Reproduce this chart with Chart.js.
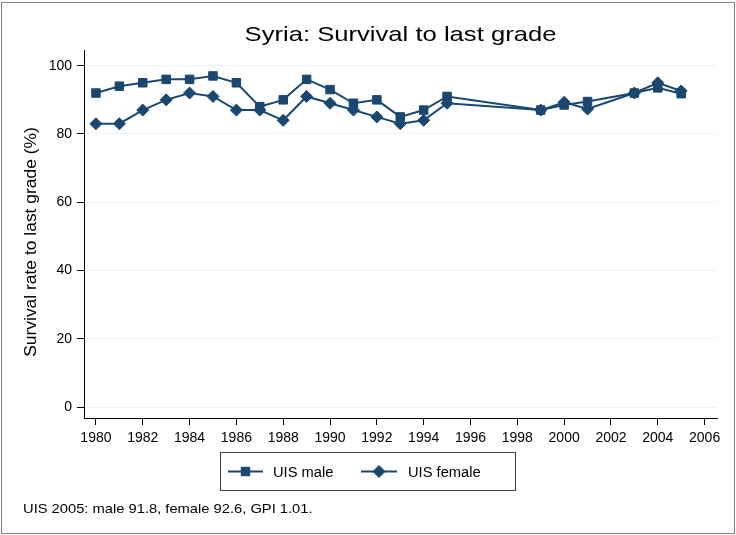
<!DOCTYPE html>
<html>
<head>
<meta charset="utf-8">
<script src="https://cdn.jsdelivr.net/npm/chart.js@4.4.1/dist/chart.umd.min.js"></script>
<style>
  html, body { margin: 0; padding: 0; background: #fff; }
  #wrap { position: relative; width: 736px; height: 535px; }
</style>
</head>
<body>
<div id="wrap"><canvas id="chart" width="736" height="535"></canvas></div>
<script>
// data
const years = [1980, 1981, 1982, 1983, 1984, 1985, 1986, 1987, 1988, 1989, 1990, 1991, 1992, 1993, 1994, 1995, 1999, 2000, 2001, 2003, 2004, 2005];
const maleRate = [92, 94, 95, 96, 96, 97, 95, 88, 90, 96, 93, 89, 90, 85, 87, 91, 87, 88.5, 89.5, 92, 93.5, 91.8];
const femaleRate = [83, 83, 87, 90, 92, 91, 87, 87, 84, 91, 89, 87, 85, 83, 84, 89, 87, 89.3, 87.3, 92, 95, 92.6];
const xTicks = [1980, 1982, 1984, 1986, 1988, 1990, 1992, 1994, 1996, 1998, 2000, 2002, 2004, 2006];
const yTicks = [0, 20, 40, 60, 80, 100];
const legendLabels = ['UIS male', 'UIS female'];
const titleText = 'Syria: Survival to last grade';
const yTitleText = 'Survival rate to last grade (%)';
const noteText = 'UIS 2005: male 91.8, female 92.6, GPI 1.01.';

const NAVY = '#1a476f';
const FONT = '"Liberation Sans", Arial, Helvetica, sans-serif';

// draw text a bit wider, like the stretched stata export
function wideText(ctx, text, x, y, sx, rot) {
  ctx.save();
  ctx.translate(x, y);
  if (rot) ctx.rotate(rot);
  ctx.scale(sx, 1);
  ctx.fillText(text, 0, 0);
  ctx.restore();
}

const decor = {
  id: 'decor',
  afterDraw(chart) {
    const ctx = chart.ctx;
    const area = chart.chartArea;
    ctx.save();

    // outer frame
    ctx.strokeStyle = '#808080';
    ctx.lineWidth = 1;
    ctx.strokeRect(1.5, 2.5, 733, 531);

    ctx.fillStyle = '#000';
    ctx.textBaseline = 'alphabetic';

    // title, centred on plot region
    ctx.font = '21px ' + FONT;
    ctx.textAlign = 'center';
    wideText(ctx, titleText, (area.left + area.right) / 2, 41, 1.22);

    // y axis title
    ctx.font = '16px ' + FONT;
    wideText(ctx, yTitleText, 36, 242, 1.09, -Math.PI / 2);

    // legend box
    ctx.strokeStyle = '#404040';
    ctx.strokeRect(220.5, 452.5, 295, 38);
    const items = [
      { label: legendLabels[0], style: 'rect', x0: 228, x1: 263, tx: 273 },
      { label: legendLabels[1], style: 'rectRot', x0: 361, x1: 397, tx: 408 }
    ];
    ctx.font = '14px ' + FONT;
    ctx.textAlign = 'left';
    items.forEach(it => {
      ctx.strokeStyle = NAVY;
      ctx.lineWidth = 2;
      ctx.beginPath();
      ctx.moveTo(it.x0, 471.5);
      ctx.lineTo(it.x1, 471.5);
      ctx.stroke();
      ctx.fillStyle = NAVY;
      ctx.lineWidth = 1;
      Chart.helpers.drawPoint(ctx, { pointStyle: it.style, radius: 6, rotation: 0, borderWidth: 1 }, (it.x0 + it.x1) / 2, 471.5);
      ctx.fillStyle = '#000';
      wideText(ctx, it.label, it.tx, 477, 1.05);
    });

    // note
    ctx.font = '13.5px ' + FONT;
    wideText(ctx, noteText, 23, 513, 1.09);

    ctx.restore();
  }
};

const ctx = document.getElementById('chart').getContext('2d');
new Chart(ctx, {
  type: 'line',
  data: {
    datasets: [
      {
        label: legendLabels[0],
        data: years.map((yr, i) => ({ x: yr, y: maleRate[i] })),
        borderColor: NAVY,
        backgroundColor: NAVY,
        borderWidth: 2,
        tension: 0,
        pointStyle: 'rect',
        pointRadius: 6,
        pointBorderWidth: 1,
        pointBackgroundColor: NAVY,
        pointBorderColor: NAVY,
        order: 2
      },
      {
        label: legendLabels[1],
        data: years.map((yr, i) => ({ x: yr, y: femaleRate[i] })),
        borderColor: NAVY,
        backgroundColor: NAVY,
        borderWidth: 2,
        tension: 0,
        pointStyle: 'rectRot',
        pointRadius: 6,
        pointBorderWidth: 1,
        pointBackgroundColor: NAVY,
        pointBorderColor: NAVY,
        order: 1
      }
    ]
  },
  options: {
    responsive: false,
    animation: false,
    devicePixelRatio: 1,
    layout: { padding: { left: 0, right: 19, top: 50, bottom: 77 } },
    plugins: {
      legend: { display: false },
      title: { display: false },
      tooltip: { enabled: false }
    },
    scales: {
      x: {
        type: 'linear',
        min: 1979.49,
        max: 2006.53,
        afterBuildTicks: axis => { axis.ticks = xTicks.map(v => ({ value: v })); },
        afterFit: scale => { scale.height = 40; },
        grid: { drawOnChartArea: false, tickColor: '#000', tickLength: 7 },
        border: { color: '#000', width: 1 },
        ticks: {
          color: '#000',
          font: { family: FONT, size: 14 },
          padding: 5,
          maxRotation: 0,
          autoSkip: false,
          callback: v => String(v)
        }
      },
      y: {
        min: -3.2,
        max: 104.6,
        afterBuildTicks: axis => { axis.ticks = yTicks.map(v => ({ value: v })); },
        afterFit: scale => { scale.width = 84; },
        grid: { color: '#eaf2f3', lineWidth: 1, tickColor: '#000', tickLength: 7 },
        border: { color: '#000', width: 1 },
        ticks: {
          color: '#000',
          font: { family: FONT, size: 14 },
          padding: 5,
          callback: v => String(v)
        }
      }
    }
  },
  plugins: [decor]
});
</script>
</body>
</html>
